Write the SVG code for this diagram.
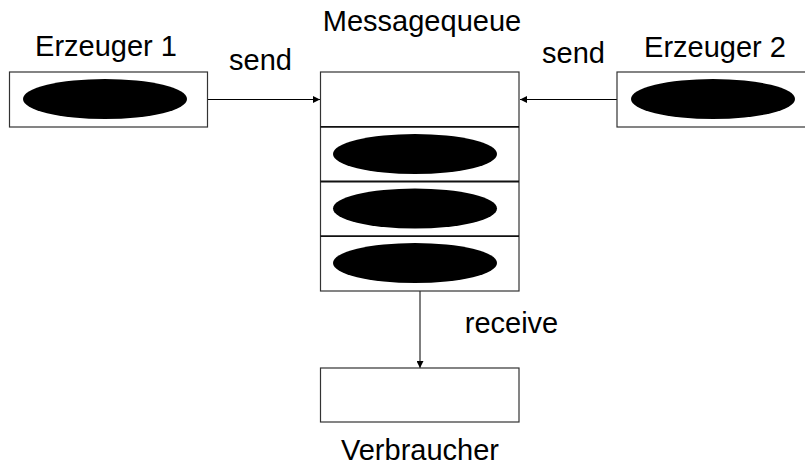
<svg xmlns="http://www.w3.org/2000/svg" width="805" height="468" viewBox="0 0 805 468">
<style>
.box{fill:#fff;stroke:#333;stroke-width:1.2}
.div{stroke:#111;stroke-width:1.8}
.blob{fill:#000}
.lbl{font-family:"Liberation Sans",Arial,sans-serif;font-size:29px;fill:#000;text-anchor:middle}
.conn{stroke:#000;stroke-width:1;fill:none}
</style>
<defs>
<marker id="ah" viewBox="0 0 10 10" refX="10" refY="5" markerWidth="9" markerHeight="7" markerUnits="userSpaceOnUse" orient="auto">
<path d="M0,0 L10,5 L0,10 z" fill="#000"/>
</marker>
</defs>
<rect width="805" height="468" fill="#fff"/>
<g id="connectors">
<line class="conn" x1="207.5" y1="99.5" x2="320" y2="99.5" marker-end="url(#ah)"/>
<line class="conn" x1="617" y1="99.5" x2="520" y2="99.5" marker-end="url(#ah)"/>
<line class="conn" x1="420" y1="291" x2="420" y2="368" marker-end="url(#ah)"/>
<text class="lbl" x="260.5" y="70">send</text>
<text class="lbl" x="573.5" y="62.5">send</text>
<text class="lbl" x="511.5" y="333">receive</text>
</g>
<g id="erzeuger1">
<rect class="box" x="9.5" y="72" width="198" height="55"/>
<ellipse class="blob" cx="105" cy="99" rx="82" ry="20"/>
<text class="lbl" x="106" y="56">Erzeuger 1</text>
</g>
<g id="erzeuger2">
<rect class="box" x="617" y="72" width="198" height="55"/>
<ellipse class="blob" cx="713" cy="99" rx="82" ry="20"/>
<text class="lbl" x="715" y="56.5">Erzeuger 2</text>
</g>
<g id="messagequeue">
<rect class="box" x="320.5" y="72" width="198.5" height="219"/>
<line class="div" x1="320.5" y1="126.8" x2="519" y2="126.8"/>
<line class="div" x1="320.5" y1="181.5" x2="519" y2="181.5"/>
<line class="div" x1="320.5" y1="236.2" x2="519" y2="236.2"/>
<ellipse class="blob" cx="415" cy="154" rx="82" ry="20"/>
<ellipse class="blob" cx="415" cy="208.5" rx="82" ry="20"/>
<ellipse class="blob" cx="415" cy="263" rx="82" ry="20"/>
<text class="lbl" x="422" y="30.5">Messagequeue</text>
</g>
<g id="verbraucher">
<rect class="box" x="320.5" y="368" width="198.5" height="54"/>
<text class="lbl" x="420" y="460">Verbraucher</text>
</g>
</svg>
